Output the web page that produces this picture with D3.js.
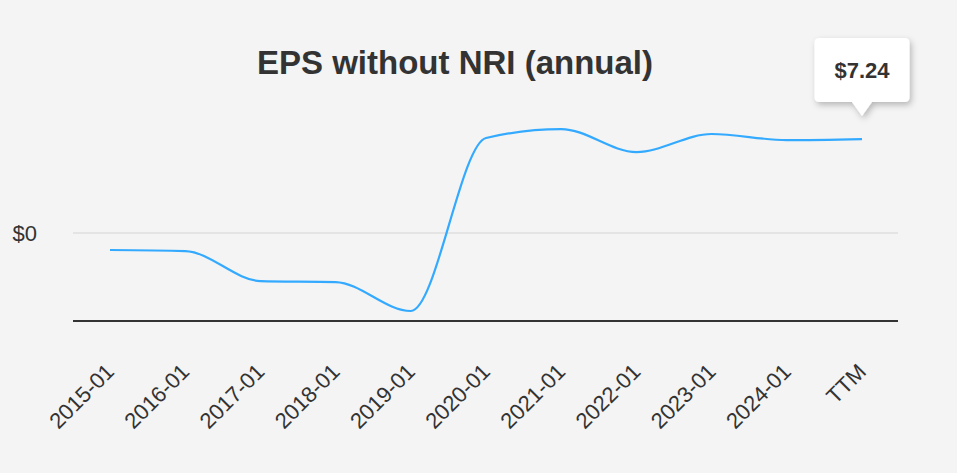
<!DOCTYPE html>
<html>
<head>
<meta charset="utf-8">
<script src="https://cdn.jsdelivr.net/npm/d3@7"></script>
<style>
  body { margin: 0; background: #f4f4f4; }
  svg { display: block; font-family: "Liberation Sans", Arial, sans-serif; }
</style>
</head>
<body>
<div id="chart"></div>
<script>
const width = 957;
const height = 473;

// data
const periods = ["2015-01", "2016-01", "2017-01", "2018-01", "2019-01", "2020-01",
                 "2021-01", "2022-01", "2023-01", "2024-01", "TTM"];
const eps = [-1.31, -1.39, -3.70, -3.78, -6.01, 7.32, 8.01, 6.24, 7.63, 7.16, 7.24];
const yTicks = [0];
const lastLabel = "$7.24";

const margin = {top: 100, right: 59, bottom: 152, left: 73};

const svg = d3.select("#chart").append("svg")
    .attr("width", width)
    .attr("height", height);

svg.append("rect")
    .attr("width", width)
    .attr("height", height)
    .attr("fill", "#f4f4f4");

const x = d3.scalePoint()
    .domain(periods)
    .range([margin.left + 37, width - margin.right - 36]);

const y = d3.scaleLinear()
    .domain([-6.78, 10.25])
    .range([height - margin.bottom, margin.top]);

// title
svg.append("text")
    .attr("x", 455)
    .attr("y", 73.5)
    .attr("text-anchor", "middle")
    .attr("font-size", 33)
    .attr("font-weight", "bold")
    .attr("fill", "#333")
    .text("EPS without NRI (annual)");

// grid at $0
svg.append("g")
  .selectAll("line")
  .data(yTicks)
  .join("line")
    .attr("x1", margin.left)
    .attr("x2", width - margin.right)
    .attr("y1", d => y(d))
    .attr("y2", d => y(d))
    .attr("stroke", "#e4e4e4")
    .attr("stroke-width", 2);

svg.append("g")
  .selectAll("text")
  .data(yTicks)
  .join("text")
    .attr("x", 37)
    .attr("y", d => y(d))
    .attr("dy", "0.35em")
    .attr("text-anchor", "end")
    .attr("font-size", 22)
    .attr("fill", "#333")
    .text(d => "$" + d);

// x axis
const xAxis = svg.append("g")
    .attr("transform", `translate(0,${height - margin.bottom})`)
    .call(d3.axisBottom(x).tickSize(0).tickPadding(0));

xAxis.select(".domain")
    .attr("d", `M${margin.left},0H${width - margin.right}`)
    .attr("stroke", "#333")
    .attr("stroke-width", 2);

xAxis.selectAll("text")
    .attr("font-size", 22)
    .attr("fill", "#333")
    .attr("font-family", "'Liberation Sans', Arial, sans-serif")
    .attr("text-anchor", "end")
    .attr("dy", null)
    .attr("transform", "translate(5,52) rotate(-45)");

// line
const line = d3.line()
    .x((d, i) => x(periods[i]))
    .y(d => y(d))
    .curve(d3.curveMonotoneX);

svg.append("path")
    .datum(eps)
    .attr("fill", "none")
    .attr("stroke", "#33aaff")
    .attr("stroke-width", 2.2)
    .attr("d", line);

// tooltip on last point
const tx = x(periods[periods.length - 1]);
const ty = y(eps[eps.length - 1]);

const defs = svg.append("defs");
const filter = defs.append("filter")
    .attr("id", "shadow")
    .attr("x", "-20%").attr("y", "-20%")
    .attr("width", "150%").attr("height", "150%");
filter.append("feDropShadow")
    .attr("dx", 2).attr("dy", 3)
    .attr("stdDeviation", 3)
    .attr("flood-color", "#000")
    .attr("flood-opacity", 0.25);

const bw = 95, bh = 64, r = 5, tip = 14;
const bx = tx - bw / 2, by = ty - tip - bh - 23;

svg.append("path")
    .attr("d", `M${bx + r},${by}H${bx + bw - r}Q${bx + bw},${by} ${bx + bw},${by + r}` +
               `V${by + bh - r}Q${bx + bw},${by + bh} ${bx + bw - r},${by + bh}` +
               `H${tx + 10}L${tx},${by + bh + tip}L${tx - 10},${by + bh}` +
               `H${bx + r}Q${bx},${by + bh} ${bx},${by + bh - r}V${by + r}Q${bx},${by} ${bx + r},${by}Z`)
    .attr("fill", "#fff")
    .attr("filter", "url(#shadow)");

svg.append("text")
    .attr("x", tx)
    .attr("y", by + bh / 2)
    .attr("dy", "0.35em")
    .attr("text-anchor", "middle")
    .attr("font-size", 22)
    .attr("font-weight", "bold")
    .attr("fill", "#333")
    .text(lastLabel);
</script>
</body>
</html>
